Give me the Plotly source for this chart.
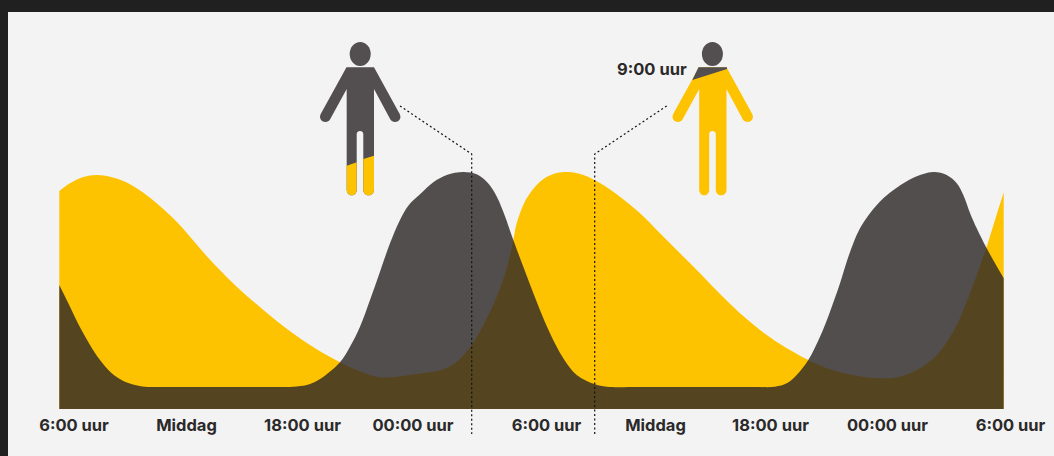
import plotly.graph_objects as go

# Position along the 48 h time axis (945 units = 48 h) and level above baseline
yellow_x = [0.3,11,24.3,37.7,51,64.3,77.7,91,104.3,117.7,131,144.3,157.7,177.7,197.7,217.7,237.7,257.7,281,297.7,317.7,331,357.7,384.3,397.7,412.7,424.3,437.7,447.7,454.3,457.7,467.7,481,494.3,509.3,524.3,541,561,581,601,621,641,661,681,701,721,749.3,771,797.7,821,841,861,877.7,894.3,907.7,917.7,927.7,936,944.7]
yellow_y = [218,225.7,232,234,232.3,228,220.7,211.3,200,187.3,172.3,156.7,142.3,122.3,104.7,88,73,59.7,46.7,39,32.3,31.7,35,39.7,47.3,64,84,112.3,140.7,169,185.7,210.7,227.3,235,237,234,226,212.3,195.7,175.7,155.7,135.7,115,95.7,79,65,49,39.7,33.3,30.7,32.3,40.7,54,77.3,107.3,134,162.3,189,216.7]
gray_x = [0.3,11,21,31,41,52.7,64.3,76,86,110,135,160,185,210,234,247.7,257.7,267.7,281,291,301,311,321,331,341,349.3,361,374.3,387.7,404.3,417.7,427.7,436,444.3,454.3,464.3,477.7,491,504.3,517.7,536,547.7,580,620,660,695,716,727.7,737.7,749.3,761,771,781,787.7,794.3,801,811,824.3,837.7,854.3,874.3,887.7,897.7,904.3,911,917.7,927.7,944.7]
gray_y = [124,102.3,81.7,64,49,35.7,28,24,22.3,22,22,22,22,22,22.3,24,28,34.7,46.7,62.3,82.3,109,137.3,165.7,189,203.3,214.7,226.7,234,237,234.7,227.3,215.7,197.3,169,142.3,107.3,75.7,50.7,34,24.7,22.3,22,22,22,22,22.3,25.7,34,49,72.3,97.3,125.7,147.3,165.7,180.7,195.7,210.7,221.3,231.3,237,234,225.7,214,196,180.7,160.7,130.7]
tick_positions = [15,127.5,243.5,354,487.5,596.5,711.5,828.5,951.5]
tick_labels = ["6:00 uur","Middag","18:00 uur","00:00 uur","6:00 uur","Middag","18:00 uur","00:00 uur","6:00 uur"]
marker_label = "9:00 uur"

YELLOW = "#fdc200"
GREY = "#534e4f"
TOP_OVER = "rgba(44,40,40,0.81)"
INK = "#2b2929"
PANEL = "#f3f3f3"
DARK = "#202020"
FONT = "Inter"

W, H, L, T, BASE = 1054, 456, 8, 12, 409

def fx(px):
    return (px - L) / (W - L)

def fy(py):
    return (BASE - py) / (BASE - T)

def path(cmds, dx=0):
    out = []
    for c in cmds:
        letter, pts = c[0], c[1:]
        coords = []
        for i in range(0, len(pts), 2):
            coords.append(f"{fx(pts[i] + dx):.5f},{fy(pts[i + 1]):.5f}")
        out.append(letter + " ".join(coords))
    return " ".join(out) + " Z"

body = [
    ("M",346.5,67.3),("L",374,67.3),("L",399.7,114),
    ("C",402,118.5,398.5,122,395,122),("C",393,122,391.3,121,390.4,119.5),
    ("L",374,89),("L",374,190),
    ("C",374,193,371.5,195.3,368.7,195.3),("C",365.7,195.3,363.3,193,363.3,190),
    ("L",363.3,134),("C",363.3,132,361.7,131,360,131),("C",358.3,131,356.7,132,356.7,134),
    ("L",356.7,190),("C",356.7,193,354.5,195.3,351.7,195.3),("C",349,195.3,346.7,193,346.7,190),
    ("L",346.7,89),("L",330,119.5),
    ("C",329.2,121,327.5,122,325.5,122),("C",322,122,318.5,118.5,320.7,114),
]
leg_left = [("M",346.7,165.7),("L",356.7,162.3),("L",356.7,190),
            ("C",356.7,193,354.5,195.3,351.7,195.3),("C",349,195.3,346.7,193,346.7,190)]
leg_right = [("M",363.3,159),("L",374,155.7),("L",374,190),
             ("C",374,193,371.5,195.3,368.7,195.3),("C",365.7,195.3,363.3,193,363.3,190)]
cap = [("M",698.5,67.3),("L",727,67.3),("L",727,69),("L",692.3,80)]

def filled(p, color):
    return dict(type="path", xref="paper", yref="paper", path=p, fillcolor=color,
                line=dict(width=0), layer="above")

def head(cx):
    return dict(type="circle", xref="paper", yref="paper", x0=fx(cx-10.5), x1=fx(cx+10.5),
                y0=fy(66), y1=fy(42), fillcolor=GREY, line=dict(width=0), layer="above")

def dotted(pts):
    cmds = [("M",)+pts[0]] + [("L",)+p for p in pts[1:]]
    s = " ".join(f"{c[0]}{fx(c[1]):.5f},{fy(c[2]):.5f}" for c in cmds)
    return dict(type="path", xref="paper", yref="paper", path=s, layer="above",
                line=dict(color="#111111", width=1.2, dash="2px,2.5px"))

shapes = [
    dict(type="rect", xref="paper", yref="paper", x0=fx(0), x1=fx(L), y0=fy(H), y1=fy(0),
         fillcolor=DARK, line=dict(width=0), layer="below"),
    dict(type="rect", xref="paper", yref="paper", x0=fx(0), x1=fx(W), y0=fy(T), y1=fy(0),
         fillcolor=DARK, line=dict(width=0), layer="below"),
    filled(path(body), GREY), filled(path(leg_left), YELLOW), filled(path(leg_right), YELLOW),
    head(360.2),
    filled(path(body, dx=352.5), YELLOW), filled(path(cap), GREY),
    head(712.4),
    dotted([(400,106),(471.7,154),(471.7,434)]),
    dotted([(666.7,106),(594.7,154),(594.7,434)]),
]

fig = go.Figure()
fig.add_trace(go.Scatter(x=yellow_x, y=yellow_y, mode="lines", fill="tozeroy", fillcolor=YELLOW,
                         line=dict(width=0, shape="spline", smoothing=1.0), hoverinfo="skip"))
fig.add_trace(go.Scatter(x=gray_x, y=gray_y, mode="lines", fill="tozeroy", fillcolor=TOP_OVER,
                         line=dict(width=0, shape="spline", smoothing=1.0), hoverinfo="skip"))

fig.update_layout(
    width=W, height=H, showlegend=False,
    margin=dict(l=L, r=0, t=T, b=H-BASE, pad=0),
    paper_bgcolor=PANEL, plot_bgcolor=PANEL,
    shapes=shapes,
    xaxis=dict(range=[L-59, W-59], tickmode="array", tickvals=tick_positions, ticktext=tick_labels,
               showgrid=False, zeroline=False, showline=False, ticks="", ticklabelstandoff=4,
               tickangle=0, tickfont=dict(family=FONT, size=16.5, color=INK, weight=700)),
    yaxis=dict(range=[0, BASE-T], visible=False, showgrid=False, zeroline=False),
    annotations=[dict(xref="paper", yref="paper", x=fx(652), y=fy(69), xanchor="center", yanchor="middle",
                      text=marker_label, showarrow=False,
                      font=dict(family=FONT, size=16.5, color=INK, weight=700))],
)
fig.write_html("out.html", config=dict(displayModeBar=False),
               post_script="document.body.style.margin='0';document.documentElement.style.overflow='hidden';")
